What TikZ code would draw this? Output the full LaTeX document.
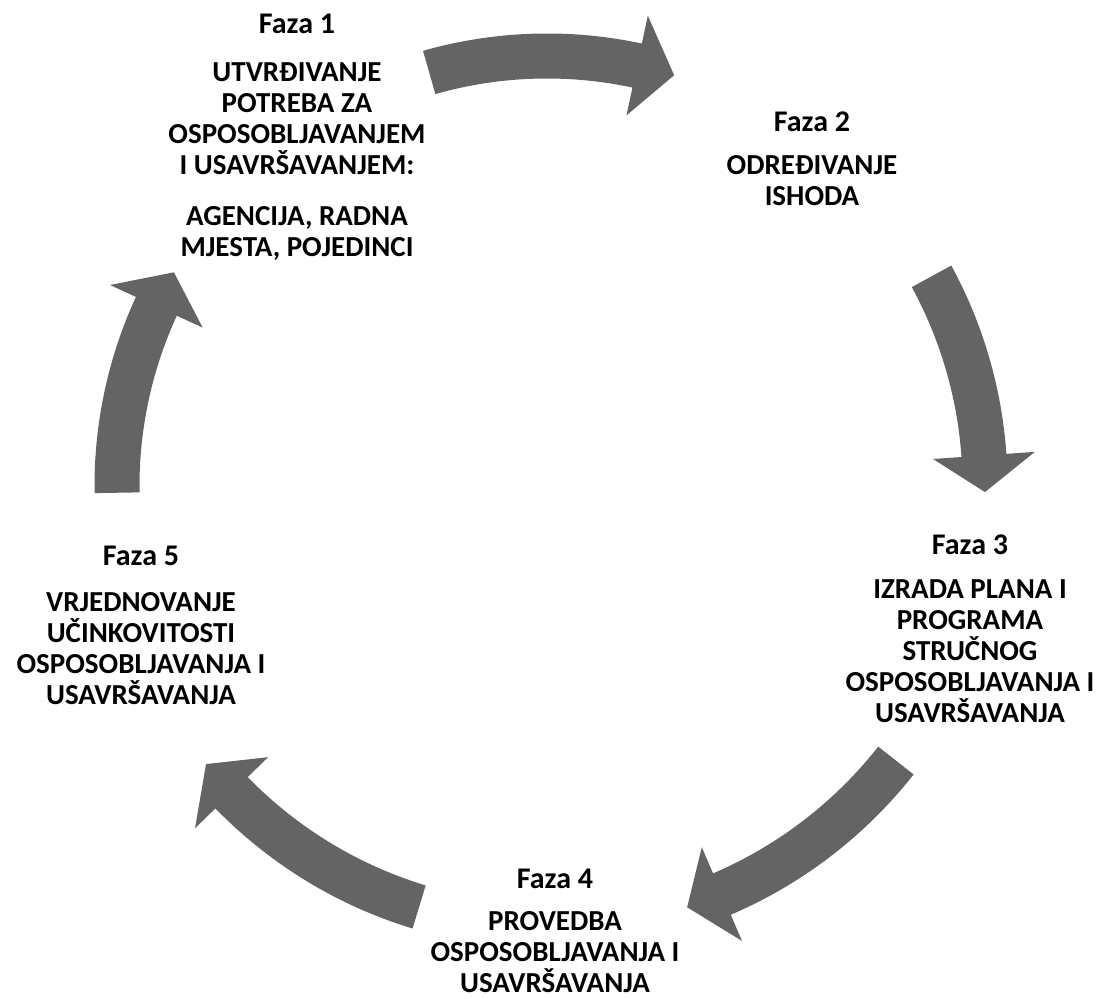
\documentclass[tikz,border=0pt]{standalone}
\usepackage{fontspec}
\setmainfont{Carlito}
\usetikzlibrary{calc}
\definecolor{arrowgray}{RGB}{100,100,100}

% Curved block arrow around the cycle centre C:
% #1 tail angle, #2 angle of the head base, #3 tip angle, #4 mid radius (pt)
\newcommand{\cycarrow}[4]{%
  \pgfmathsetmacro\cyRo{#4+22.5}%
  \pgfmathsetmacro\cyRi{#4-22.5}%
  \pgfmathsetmacro\cyBo{#4+51}%
  \pgfmathsetmacro\cyBi{#4-51}%
  \fill[arrowgray]
    ($(C)+(#1:\cyRo pt)$) arc[start angle=#1, end angle=#2, radius=\cyRo pt]
    -- ($(C)+(#2:\cyBo pt)$) -- ($(C)+(#3:#4pt)$) -- ($(C)+(#2:\cyBi pt)$)
    -- ($(C)+(#2:\cyRi pt)$) arc[start angle=#2, end angle=#1, radius=\cyRi pt]
    -- cycle;}

\newcommand{\faza}[1]{{\fontsize{30}{31}\selectfont Faza #1}}

\tikzset{
  phase/.style={align=center, inner sep=0pt, anchor=north,
    font=\bfseries\fontsize{29}{31}\selectfont},
}

\begin{document}
\begin{tikzpicture}[x=1pt, y=1pt]
  \useasboundingbox (0,0) rectangle (1099,998);
  \coordinate (C) at (547,512);

  % the five arrows of the cycle
  \cycarrow{105.9}{77.9}{72.8}{430}
  \cycarrow{28.6}{4.0}{-0.8}{438}
  \cycarrow{-38.2}{-66.8}{-71.6}{444}
  \cycarrow{-106.9}{-135.8}{-140.8}{440}
  \cycarrow{180.9}{155.3}{150.2}{430}

  % phase labels
  \node[phase] (f1) at (297,984) {\faza{1}\\[17pt]UTVRĐIVANJE\\POTREBA ZA\\OSPOSOBLJAVANJEM\\I USAVRŠAVANJEM:\\[20pt]AGENCIJA, RADNA\\MJESTA, POJEDINCI};
  \node[phase] (f2) at (812,886) {\faza{2}\\[12pt]ODREĐIVANJE\\ISHODA};
  \node[phase] (f3) at (970,463) {\faza{3}\\[13pt]IZRADA PLANA I\\PROGRAMA\\STRUČNOG\\OSPOSOBLJAVANJA I\\USAVRŠAVANJA};
  \node[phase] (f4) at (555,129) {\faza{4}\\[11pt]PROVEDBA\\OSPOSOBLJAVANJA I\\USAVRŠAVANJA};
  \node[phase] (f5) at (141,452) {\faza{5}\\[15pt]VRJEDNOVANJE\\UČINKOVITOSTI\\OSPOSOBLJAVANJA I\\USAVRŠAVANJA};
\end{tikzpicture}
\end{document}
